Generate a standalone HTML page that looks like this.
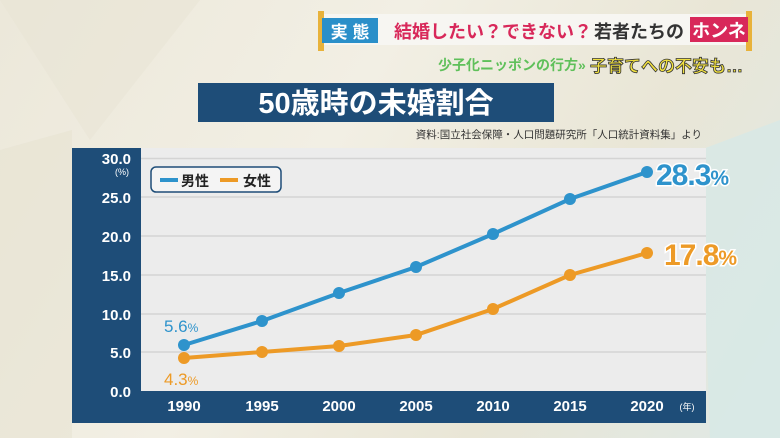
<!DOCTYPE html>
<html><head><meta charset="utf-8"><style>
body{margin:0;width:780px;height:438px;overflow:hidden;background:linear-gradient(120deg,#ece8da 0%,#f2efe4 40%,#e9e6d6 70%,#dfe9e6 100%);font-family:"Liberation Sans","Noto Sans CJK JP",sans-serif;position:relative}
.abs{position:absolute}
</style></head><body>
<svg class="abs" style="left:0;top:0" width="780" height="438">
<polygon points="0,0 200,0 90,140" fill="#e8e4d4" opacity="0.5"/>
<polygon points="700,150 780,120 780,438 710,438" fill="#d7e8e6" opacity="0.8"/>
<polygon points="0,150 72,130 72,438 0,438" fill="#e6e2cf" opacity="0.5"/>
<rect x="322" y="14" width="430" height="31" fill="#f7f6f2"/>
<rect x="318" y="11" width="6" height="40" fill="#e8b23a"/>
<rect x="746" y="11" width="6" height="40" fill="#e8b23a"/>
<rect x="322" y="18" width="56" height="25" fill="#2a8fc9"/>
<text x="350" y="38" font-size="17" font-weight="bold" fill="#fff" text-anchor="middle">実 態</text>
<text x="394" y="38" font-size="18" font-weight="bold" fill="#d8285a">結婚したい？できない？</text>
<text x="594" y="38" font-size="18" font-weight="bold" fill="#333">若者たちの</text>
<rect x="690" y="17" width="58" height="25" fill="#d8285a"/>
<text x="719" y="37" font-size="18" font-weight="bold" fill="#fff" text-anchor="middle">ホンネ</text>
<text x="438" y="70" font-size="14" font-weight="bold" fill="#5fc05a">少子化ニッポンの行方»</text>
<text x="590" y="72" font-size="17" font-weight="bold" fill="#f0e040" stroke="#333" stroke-width="0.8">子育てへの不安も…</text>
<rect x="198" y="83" width="356" height="39" fill="#1e4d78"/>
<text x="376" y="113" font-size="29" font-weight="bold" fill="#fff" text-anchor="middle">50歳時の未婚割合</text>
<text x="702" y="138" font-size="10.5" fill="#333" text-anchor="end">資料:国立社会保障・人口問題研究所「人口統計資料集」より</text>
<rect x="72" y="148" width="634" height="275" fill="#1e4d78"/>
<rect x="141" y="148" width="565" height="243" fill="#ececec"/>
<g stroke="#d4d4d4" stroke-width="1.5">
<line x1="141" x2="706" y1="158.5" y2="158.5"/><line x1="141" x2="706" y1="197" y2="197"/>
<line x1="141" x2="706" y1="236" y2="236"/><line x1="141" x2="706" y1="275" y2="275"/>
<line x1="141" x2="706" y1="314" y2="314"/><line x1="141" x2="706" y1="352" y2="352"/>
</g>
<g font-size="15" font-weight="bold" fill="#fff" text-anchor="end">
<text x="131" y="164">30.0</text><text x="131" y="203">25.0</text><text x="131" y="242">20.0</text>
<text x="131" y="281">15.0</text><text x="131" y="320">10.0</text><text x="131" y="358">5.0</text><text x="131" y="397">0.0</text>
<text x="129" y="175" font-size="9" font-weight="normal">(%)</text>
</g>
<g font-size="15" font-weight="bold" fill="#fff" text-anchor="middle">
<text x="184" y="411">1990</text><text x="262" y="411">1995</text><text x="339" y="411">2000</text>
<text x="416" y="411">2005</text><text x="493" y="411">2010</text><text x="570" y="411">2015</text><text x="647" y="411">2020</text>
<text x="687" y="410" font-size="9" font-weight="normal">(年)</text>
</g>
<rect x="151" y="167" width="130" height="25" rx="5" fill="#f4f4f4" stroke="#1e4d78" stroke-width="1.5"/>
<line x1="160" x2="178" y1="180" y2="180" stroke="#2e93cc" stroke-width="4"/>
<text x="181" y="186" font-size="14" font-weight="bold" fill="#222">男性</text>
<line x1="220" x2="238" y1="180" y2="180" stroke="#ed9a26" stroke-width="4"/>
<text x="243" y="186" font-size="14" font-weight="bold" fill="#222">女性</text>
<polyline points="184,345 262,321 339,293 416,267 493,234 570,199 647,172" fill="none" stroke="#2e93cc" stroke-width="4"/>
<polyline points="184,358 262,352 339,346 416,335 493,309 570,275 647,253" fill="none" stroke="#ed9a26" stroke-width="4"/>
<g fill="#2e93cc"><circle cx="184" cy="345" r="6"/><circle cx="262" cy="321" r="6"/><circle cx="339" cy="293" r="6"/><circle cx="416" cy="267" r="6"/><circle cx="493" cy="234" r="6"/><circle cx="570" cy="199" r="6"/><circle cx="647" cy="172" r="6"/></g>
<g fill="#ed9a26"><circle cx="184" cy="358" r="6"/><circle cx="262" cy="352" r="6"/><circle cx="339" cy="346" r="6"/><circle cx="416" cy="335" r="6"/><circle cx="493" cy="309" r="6"/><circle cx="570" cy="275" r="6"/><circle cx="647" cy="253" r="6"/></g>
<text x="164" y="332" font-size="17" fill="#2e93cc">5.6<tspan font-size="12">%</tspan></text>
<text x="164" y="385" font-size="17" fill="#ed9a26">4.3<tspan font-size="12">%</tspan></text>
<text x="656" y="185" font-family="Liberation Sans, sans-serif" font-size="30" font-weight="bold" fill="#2e93cc" stroke="#fff" stroke-width="3" paint-order="stroke" letter-spacing="-1">28.3<tspan font-size="21">%</tspan></text>
<text x="664" y="265" font-family="Liberation Sans, sans-serif" font-size="30" font-weight="bold" fill="#ed9a26" stroke="#fff" stroke-width="3" paint-order="stroke" letter-spacing="-1">17.8<tspan font-size="21">%</tspan></text>
</svg>
</body></html>
